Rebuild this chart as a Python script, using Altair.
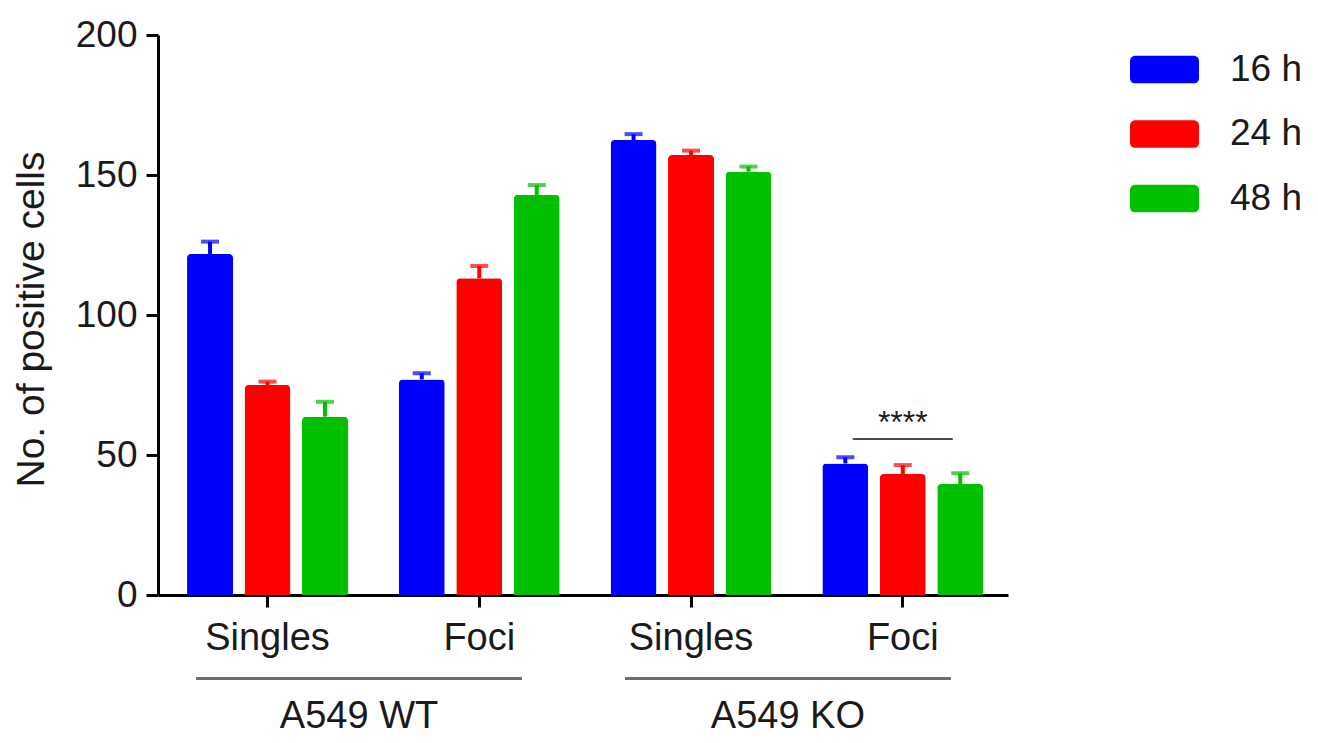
import altair as alt
import pandas as pd

# ---- data ----
groups = ["WT Singles", "WT Foci", "KO Singles", "KO Foci"]
times = ["16 h", "24 h", "48 h"]
mean_16 = [121.8, 77.0, 162.5, 47.0]
mean_24 = [75.0, 113.1, 157.1, 43.2]
mean_48 = [63.7, 142.9, 151.2, 39.6]
err_16 = [4.4, 2.2, 2.1, 2.2]
err_24 = [1.2, 4.4, 1.6, 3.2]
err_48 = [5.3, 3.5, 1.8, 3.9]
cell_lines = ["A549 WT", "A549 KO"]
colors = ["#0000FF", "#FF0000", "#00C000"]
y_ticks = [0, 50, 100, 150, 200]
sig_group = ["KO Foci"]
sig_line_y = [55.7]
sig_text_y = [58.0]
sig_label = ["****"]

rows = []
for t, means, errs in zip(times, [mean_16, mean_24, mean_48], [err_16, err_24, err_48]):
    for g, m, e in zip(groups, means, errs):
        rows.append({"group": g, "time": t, "mean": m, "upper": m + e})
df = pd.DataFrame(rows)
sig_df = pd.DataFrame({"group": sig_group, "y": sig_line_y, "ty": sig_text_y, "label": sig_label})
cell_df = pd.DataFrame({"cell": cell_lines})

FONT = "Liberation Sans"
TXT = "#1a1a1a"

x_enc = alt.X(
    "group:N", sort=groups, title=None,
    scale=alt.Scale(paddingInner=0.24, paddingOuter=0.127, align=0.54),
    axis=alt.Axis(
        labelExpr="split(datum.label, ' ')[1]", labelAngle=0,
        labelFontSize=38, labelFont=FONT, labelColor=TXT, labelPadding=12,
        tickSize=12, tickWidth=3, tickColor="black",
        domainColor="black", domainWidth=3, grid=False,
    ),
)
x_off = alt.XOffset("time:N", sort=times, scale=alt.Scale(paddingInner=0.2, paddingOuter=0))
y_enc = alt.Y(
    "mean:Q",
    scale=alt.Scale(domain=[0, 200], nice=False),
    axis=alt.Axis(
        values=y_ticks, title="No. of positive cells", grid=False,
        labelFontSize=37, labelFont=FONT, labelColor=TXT, labelPadding=9,
        tickSize=12, tickWidth=3, tickColor="black",
        domainColor="black", domainWidth=3,
        titleFont=FONT, titleFontSize=39, titleFontWeight="normal", titleColor=TXT,
        titleX=-107, titleY=284,
    ),
)

legend_path = ("M-0.85,-0.4 H0.85 A0.15,0.15 0 0 1 1,-0.25 V0.25 A0.15,0.15 0 0 1 0.85,0.4 "
               "H-0.85 A0.15,0.15 0 0 1 -1,0.25 V-0.25 A0.15,0.15 0 0 1 -0.85,-0.4 Z")

color_enc = alt.Color(
    "time:N", sort=times,
    scale=alt.Scale(domain=times, range=colors),
    legend=alt.Legend(
        title=None, orient="none", legendX=972, legendY=0,
        symbolType=legend_path, symbolSize=69 * 69, symbolStrokeWidth=0, symbolOpacity=1,
        labelFont=FONT, labelFontSize=37, labelColor=TXT, labelOffset=31,
        rowPadding=11.5, padding=0,
    ),
)

bars = alt.Chart(df).mark_bar(cornerRadiusTopLeft=4, cornerRadiusTopRight=4).encode(
    x=x_enc, xOffset=x_off, y=y_enc, color=color_enc
)
stems = alt.Chart(df).mark_rule(strokeWidth=4).encode(
    x=x_enc, xOffset=x_off, y="mean:Q", y2="upper:Q",
    color=alt.Color("time:N", sort=times, legend=None),
)
caps = alt.Chart(df).mark_tick(thickness=4, size=18).encode(
    x=x_enc, xOffset=x_off, y="upper:Q",
    color=alt.Color("time:N", sort=times, legend=None),
)
sig_line = alt.Chart(sig_df).mark_tick(color="black", thickness=2, size=100).encode(
    x=x_enc, y="y:Q"
)
sig_text = alt.Chart(sig_df).mark_text(
    font=FONT, fontSize=32, baseline="alphabetic", color=TXT
).encode(x=x_enc, y="ty:Q", text="label:N")

x_cell = alt.X(
    "cell:N", sort=cell_lines, axis=None,
    scale=alt.Scale(paddingInner=0.24, paddingOuter=0.111, align=0.4),
)
cell_lines_mark = alt.Chart(cell_df).mark_bar(color="#6e6e6e").encode(
    x=x_cell, y=alt.value(642), y2=alt.value(645)
)
cell_labels = alt.Chart(cell_df).mark_text(
    font=FONT, fontSize=38, baseline="middle", color=TXT
).encode(x=x_cell, y=alt.value(682), text="cell:N")

main = alt.layer(bars, stems, caps, sig_line, sig_text)
bottom = alt.layer(cell_lines_mark, cell_labels)

chart = (
    alt.layer(main, bottom)
    .resolve_scale(x="independent")
    .properties(
        width=850, height=560,
        autosize=alt.AutoSizeParams(type="none"),
        padding={"left": 150, "top": 27, "right": 300, "bottom": 148},
    )
    .configure(font=FONT)
    .configure_view(stroke=None)
)

chart.save("out.html", embed_options={"renderer": "svg", "actions": False})
